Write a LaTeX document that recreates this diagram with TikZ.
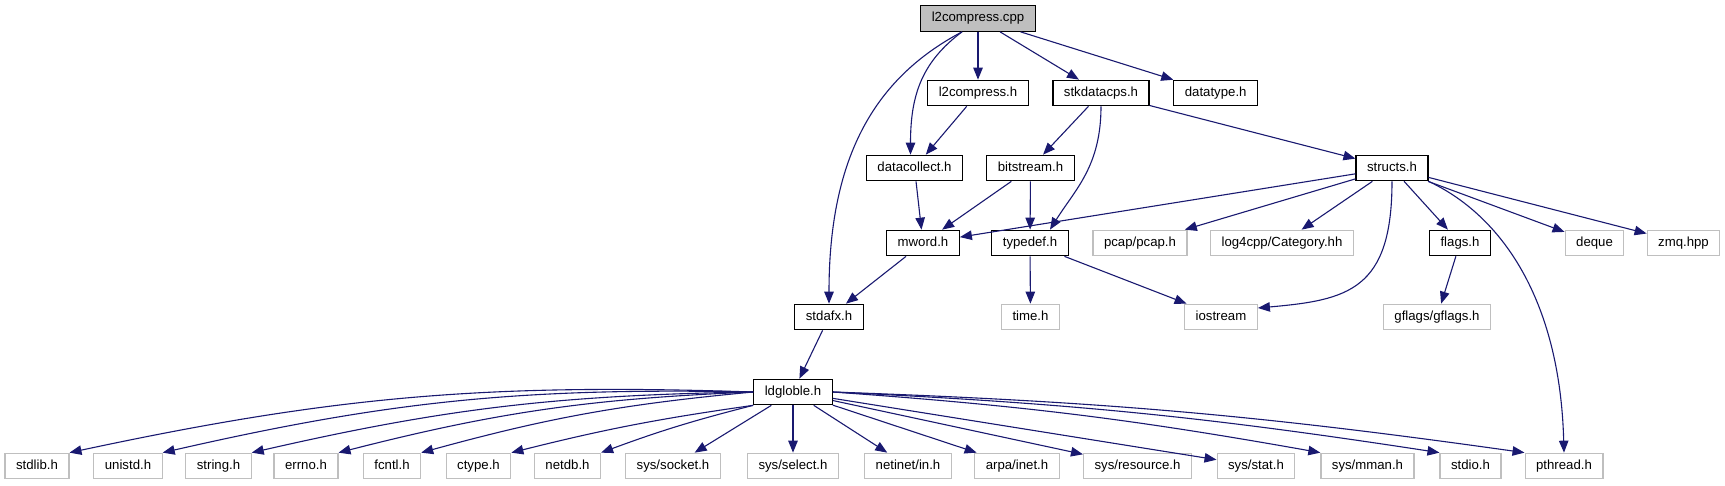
\documentclass[tikz,border=0pt]{standalone}
\usepackage{fontspec}
\setmainfont{Liberation Sans}
\usetikzlibrary{arrows.meta}
\definecolor{edgeblue}{HTML}{191970}
\definecolor{boxgray}{HTML}{BFBFBF}
\tikzset{
  file/.style={draw=black, line width=1.2pt, fill=white, minimum height=25.5pt,
    inner xsep=11pt, inner ysep=0pt, text height=9.5pt, text depth=2.8pt,
    font=\fontsize{13.2}{15}\selectfont},
  sysfile/.style={file, draw=boxgray},
  mainfile/.style={file, fill=boxgray},
  dep/.style={draw=edgeblue, line width=1.1pt, -{Triangle[length=12pt,width=9.5pt]}}
}
\begin{document}
\begin{tikzpicture}[x=1pt,y=1pt]
\useasboundingbox (0,0) rectangle (1725,-485);
\node[mainfile] (cpp) at (978,-18.5) {l2compress.cpp};
\node[file] (l2h) at (978,-93) {l2compress.h};
\node[file] (stk) at (1101,-93) {stkdatacps.h};
\node[file] (dtype) at (1215.7,-93) {datatype.h};
\node[file] (dcol) at (914.5,-168) {datacollect.h};
\node[file] (bits) at (1030.5,-168) {bitstream.h};
\node[file] (structs) at (1392,-168) {structs.h};
\node[file] (mword) at (923,-243) {mword.h};
\node[file] (tdef) at (1030,-243) {typedef.h};
\node[sysfile] (pcap) at (1140,-243) {pcap/pcap.h};
\node[sysfile] (log4) at (1282,-243) {log4cpp/Category.hh};
\node[file] (flags) at (1460,-243) {flags.h};
\node[sysfile] (deque) at (1594.5,-243) {deque};
\node[sysfile] (zmq) at (1683.5,-243) {zmq.hpp};
\node[file] (stdafx) at (829,-317) {stdafx.h};
\node[sysfile] (time) at (1030.5,-317) {time.h};
\node[sysfile] (iostream) at (1221,-317) {iostream};
\node[sysfile] (gflags) at (1437,-317) {gflags/gflags.h};
\node[file] (ld) at (793,-392) {ldgloble.h};
% bottom row
\node[sysfile] (stdlib) at (37,-466) {stdlib.h};
\node[sysfile] (unistd) at (128,-466) {unistd.h};
\node[sysfile] (string) at (218.5,-466) {string.h};
\node[sysfile] (errno) at (306,-466) {errno.h};
\node[sysfile] (fcntl) at (392,-466) {fcntl.h};
\node[sysfile] (ctype) at (478.5,-466) {ctype.h};
\node[sysfile] (netdb) at (567.5,-466) {netdb.h};
\node[sysfile] (socket) at (673,-466) {sys/socket.h};
\node[sysfile] (select) at (793,-466) {sys/select.h};
\node[sysfile] (netin) at (908,-466) {netinet/in.h};
\node[sysfile] (arpa) at (1017,-466) {arpa/inet.h};
\node[sysfile] (res) at (1137.5,-466) {sys/resource.h};
\node[sysfile] (stat) at (1256,-466) {sys/stat.h};
\node[sysfile] (mman) at (1367.5,-466) {sys/mman.h};
\node[sysfile] (stdio) at (1470.5,-466) {stdio.h};
\node[sysfile] (pthread) at (1564,-466) {pthread.h};
% includes
\draw[dep] ([xshift=-16pt]cpp.south) .. controls +(-85,-45) and +(0,150) .. (stdafx.north);
\draw[dep] ([xshift=-16pt]cpp.south) .. controls +(-40,-30) and +(0,60) .. ([xshift=-4pt]dcol.north);
\draw[dep] (cpp) -- (l2h);
\draw[dep] (cpp) -- (stk);
\draw[dep] (cpp) -- (dtype);
\draw[dep] (l2h) -- (dcol);
\draw[dep] (stk) -- (bits);
\draw[dep] (stk.south) .. controls +(0,-60) and +(25,40) .. ([xshift=20pt]tdef.north);
\draw[dep] (stk) -- (structs);
\draw[dep] (dcol) -- (mword);
\draw[dep] (bits) -- (mword);
\draw[dep] (bits) -- (tdef);
\foreach \t in {mword,pcap,log4,flags,deque,zmq}
  \draw[dep] (structs) -- (\t);
\draw[dep] (structs.south) .. controls +(0,-109) and +(90,8) .. ([yshift=9pt]iostream.east);
\draw[dep] (structs.south east) .. controls +(73,-34) and +(-4,153) .. (pthread.north);
\draw[dep] (tdef) -- (time);
\draw[dep] (tdef) -- (iostream);
\draw[dep] (flags) -- (gflags);
\draw[dep] (mword) -- (stdafx);
\draw[dep] (stdafx) -- (ld);
% ldgloble.h fan
\foreach \t/\b in {stdlib/7,unistd/7,string/6,errno/6,fcntl/5}
  \draw[dep] (ld.west) to[bend right=\b] (\t.north east);
\foreach \t in {ctype,netdb}
  \draw[dep] (ld.south west) to[bend right=3] (\t.north east);
\foreach \t in {socket,select,netin,arpa,res,stat}
  \draw[dep] (ld) -- (\t);
\foreach \t in {mman,stdio,pthread}
  \draw[dep] (ld.east) to[bend left=3] (\t.north west);
\end{tikzpicture}
\end{document}
